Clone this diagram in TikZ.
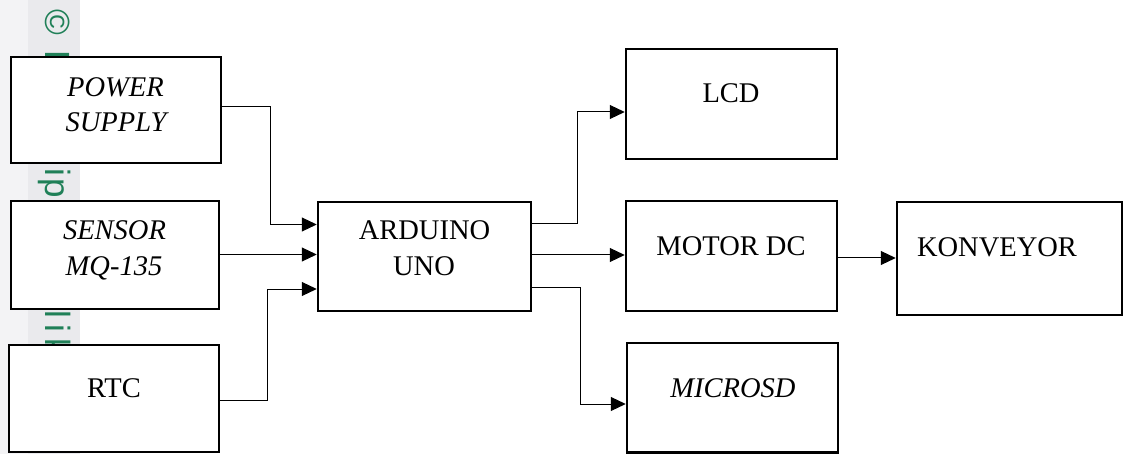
\documentclass[tikz,border=0pt]{standalone}
\usepackage{fontspec}
\setmainfont{Liberation Serif}
\newfontfamily\wmfont{Liberation Sans}
\usetikzlibrary{arrows.meta}
\definecolor{wmgreen}{RGB}{32,128,88}
\definecolor{bandA}{RGB}{243,243,245}
\definecolor{bandB}{RGB}{234,234,237}
\begin{document}
\begin{tikzpicture}[x=1pt,y=-1pt,
  blk/.style={draw,line width=2.5pt,fill=white,inner sep=0pt},
  lbl/.style={anchor=base,inner sep=0pt,font=\fontsize{28.5}{34}\selectfont},
  ilbl/.style={anchor=base,inner sep=0pt,font=\fontsize{28.5}{34}\selectfont\itshape},
  conn/.style={line width=1pt,-{Triangle[length=15pt,width=14pt]}},
  wm/.style={text=wmgreen,rotate=-90,inner sep=0pt,anchor=base west,font=\wmfont\fontsize{35}{40}\selectfont}]
\useasboundingbox (0,0) rectangle (1137,454);
% watermark band
\fill[bandA] (0,0) rectangle (28,454);
\fill[bandB] (28,0) rectangle (80,454);
\node[text=wmgreen,rotate=-90,inner sep=0pt,font=\wmfont\fontsize{35}{40}\selectfont] (wmC) at (58,22) {©};
\node[wm] (wmH) at (45,50) {H};
\node[wm] (wmI1) at (45,168) {i};
\node[wm] (wmP) at (45,178) {p};
\node[wm] (wmL1) at (45,310) {l};
\node[wm] (wmI2) at (45,324) {i};
\node[wm] (wmK) at (45,338) {k};
% boxes
\node[blk,minimum width=210pt,minimum height=106pt] (ps) at (116,110) {};
\node[blk,minimum width=208pt,minimum height=108pt] (sen) at (115,255) {};
\node[blk,minimum width=210pt,minimum height=107pt] (rtc) at (114,398.5) {};
\node[blk,minimum width=213pt,minimum height=109pt] (ard) at (424.5,256.5) {};
\node[blk,minimum width=211pt,minimum height=110pt] (lcd) at (731.5,104) {};
\node[blk,minimum width=211pt,minimum height=110pt] (mot) at (731.5,256) {};
\node[blk,minimum width=225pt,minimum height=113pt] (kon) at (1009.5,258.5) {};
\node[blk,minimum width=211pt,minimum height=109.5pt] (msd) at (732.5,397.75) {};
% labels
\node[ilbl] (psT1) at (115.5,97) {POWER};
\node[ilbl] (psT2) at (116,132) {SUPPLY};
\node[ilbl] (senT1) at (114.5,240) {SENSOR};
\node[ilbl] (senT2) at (114,276) {MQ-135};
\node[lbl] (rtcT) at (114,397) {RTC};
\node[lbl] (ardT1) at (424.5,240) {ARDUINO};
\node[lbl] (ardT2) at (424,276) {UNO};
\node[lbl] (lcdT) at (731,103) {LCD};
\node[lbl] (motT) at (731,255) {MOTOR DC};
\node[lbl] (konT) at (997,257) {KONVEYOR};
\node[ilbl] (msdT) at (733,397) {MICROSD};
% connectors
\draw[conn] (ps.east |- 0,107) -| (270,224.5) -- (ard.west |- 0,224.5);
\draw[conn] (sen.east |- 0,254.5) -- (ard.west |- 0,254.5);
\draw[conn] (rtc.east |- 0,400) -| (267,289) -- (ard.west |- 0,289);
\draw[conn] (ard.east |- 0,224) -| (577,112) -- (lcd.west |- 0,112);
\draw[conn] (ard.east |- 0,255) -- (mot.west |- 0,255);
\draw[conn] (ard.east |- 0,287) -| (580,404) -- (msd.west |- 0,404);
\draw[conn] (mot.east |- 0,258) -- (kon.west |- 0,258);
\end{tikzpicture}
\end{document}
